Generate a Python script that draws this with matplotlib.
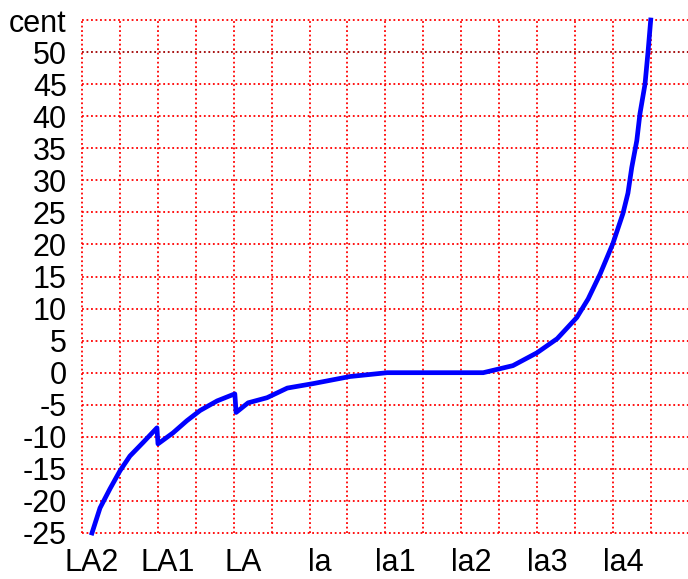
import matplotlib
matplotlib.use("Agg")
import matplotlib.pyplot as plt

# Piano key number (A0 = 1) and deviation in cents
keys = [1.0, 2.27, 3.85, 5.43, 7.0, 9.07, 11.28, 11.44, 13.8, 16.0, 18.1, 20.8,
        23.6, 23.8, 25.7, 28.7, 31.9, 36.0, 41.8, 47.7, 62.9, 67.6, 71.4, 74.6,
        77.7, 79.5, 81.4, 83.4, 85.0, 85.8, 86.4, 87.2, 87.7, 88.5, 89.0, 89.4]
cents = [-25.0, -21.1, -18.1, -15.3, -13.0, -10.9, -8.6, -11.1, -9.4, -7.5, -5.9, -4.4,
         -3.3, -6.2, -4.7, -3.9, -2.4, -1.7, -0.6, 0.0, 0.0, 1.1, 3.1, 5.3,
         8.6, 11.5, 15.4, 20.1, 24.8, 28.0, 32.0, 36.2, 40.4, 45.0, 50.3, 55.0]

note_keys = [1, 13, 25, 37, 49, 61, 73, 85]
note_labels = ["LA2", "LA1", "LA", "la", "la1", "la2", "la3", "la4"]

y_ticks = [-25, -20, -15, -10, -5, 0, 5, 10, 15, 20, 25, 30, 35, 40, 45, 50, 55]
y_labels = [str(v) for v in y_ticks[:-1]] + ["cent"]

plt.rcParams['font.family'] = ['Liberation Sans', 'DejaVu Sans']

fig = plt.figure(figsize=(6.88, 5.79), dpi=100)
ax = fig.add_axes([82 / 688, 46 / 579, 606 / 688, 513 / 579])

x0, x1 = -0.58, 95.3
ax.set_xlim(x0, x1)
ax.set_ylim(-25, 55)

for s in ax.spines.values():
    s.set_visible(False)

dots = (0, (1, 1.5))
vgrid = [x0 + 6 * i for i in range(16)]
for xv in vgrid:
    ax.axvline(xv, zorder=1, clip_on=False, color='#ff0000',
               linestyle=dots, linewidth=1.3)
for yv in y_ticks:
    c = '#a00000' if yv == 50 else '#ff0000'
    ax.axhline(yv, zorder=1, clip_on=False,
               color=c, linestyle=dots, linewidth=1.3)

ax.plot(keys, cents, color='#0000ff', linewidth=3.4, zorder=3,
        solid_joinstyle='round', clip_on=False)

ax.set_xticks(note_keys)
ax.set_xticklabels(note_labels, fontsize=22)
ax.set_yticks(y_ticks)
ax.set_yticklabels(y_labels, fontsize=22)
ax.tick_params(axis='x', length=0, pad=11)
ax.tick_params(axis='y', length=0, pad=11)

fig.savefig("out.png", dpi=100)
